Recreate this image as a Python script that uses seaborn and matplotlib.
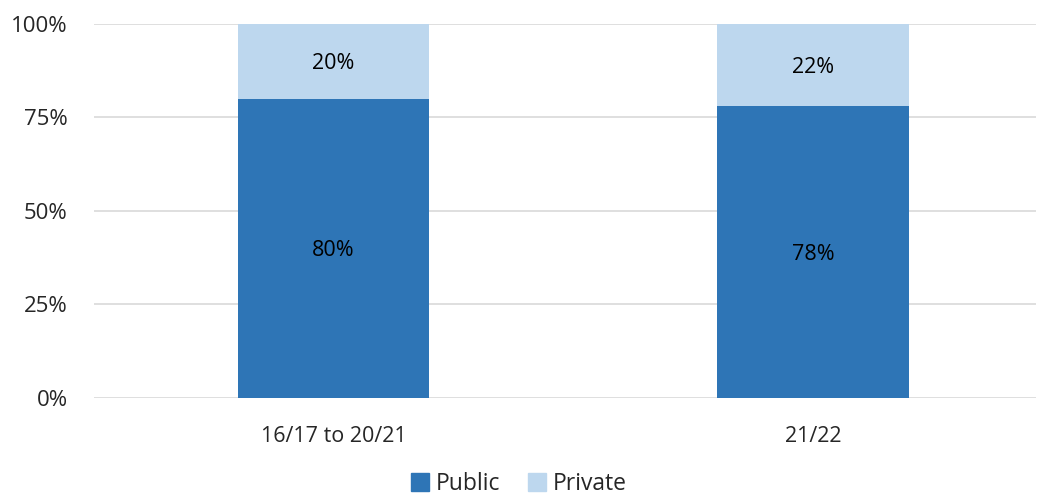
import pandas as pd
import matplotlib
matplotlib.use('Agg')
import matplotlib.pyplot as plt
import seaborn as sns
from matplotlib.patches import Patch

# chart data
periods = ['16/17 to 20/21', '21/22']
public = [80, 78]
private = [20, 22]
yticks = [0, 25, 50, 75, 100]

df = pd.DataFrame({'period': periods, 'public': public, 'private': private})
df['total'] = df['public'] + df['private']

sns.set_style('white')
plt.rcParams['font.family'] = ['Open Sans', 'DejaVu Sans']

c_pub = '#2E75B6'
c_priv = '#BDD7EE'

fig = plt.figure(figsize=(10.38, 4.99), dpi=100)
ax = fig.add_axes([0.0906, 0.2024, 0.9074, 0.7496])

# stacked bars: draw total (private on top) then public underneath
sns.barplot(data=df, x='period', y='total', color=c_priv, width=0.40,
            saturation=1, linewidth=0, ax=ax, zorder=2)
sns.barplot(data=df, x='period', y='public', color=c_pub, width=0.40,
            saturation=1, linewidth=0, ax=ax, zorder=3)

# segment labels
for i, row in df.iterrows():
    ax.text(i, row['public'] / 2, f"{row['public']}%", ha='center',
            va='center_baseline', fontsize=15.5, color='black', zorder=4)
    ax.text(i, row['public'] + row['private'] / 2, f"{row['private']}%",
            ha='center', va='center_baseline', fontsize=15.5, color='black', zorder=4)

ax.set_ylim(0, 100)
ax.set_xlim(-0.4995, 1.465)
ax.set_yticks(yticks)
ax.set_yticklabels([f'{t}%' for t in yticks])
ax.yaxis.grid(True, color='#D9D9D9', linewidth=1.2, zorder=0)
ax.set_axisbelow(True)
for s in ax.spines.values():
    s.set_visible(False)
ax.tick_params(axis='y', length=0, pad=19, labelsize=16)
ax.tick_params(axis='x', length=0, pad=20, labelsize=15.5)
ax.set_xlabel('')
ax.set_ylabel('')

handles = [Patch(color=c_pub, label='Public'), Patch(color=c_priv, label='Private')]
fig.legend(handles=handles, loc='center', bbox_to_anchor=(0.5, 0.03), ncol=2,
           frameon=False, fontsize=16.5, handlelength=0.8, handleheight=0.8,
           handletextpad=0.3, columnspacing=1.2)

fig.savefig('out.png', dpi=100)
